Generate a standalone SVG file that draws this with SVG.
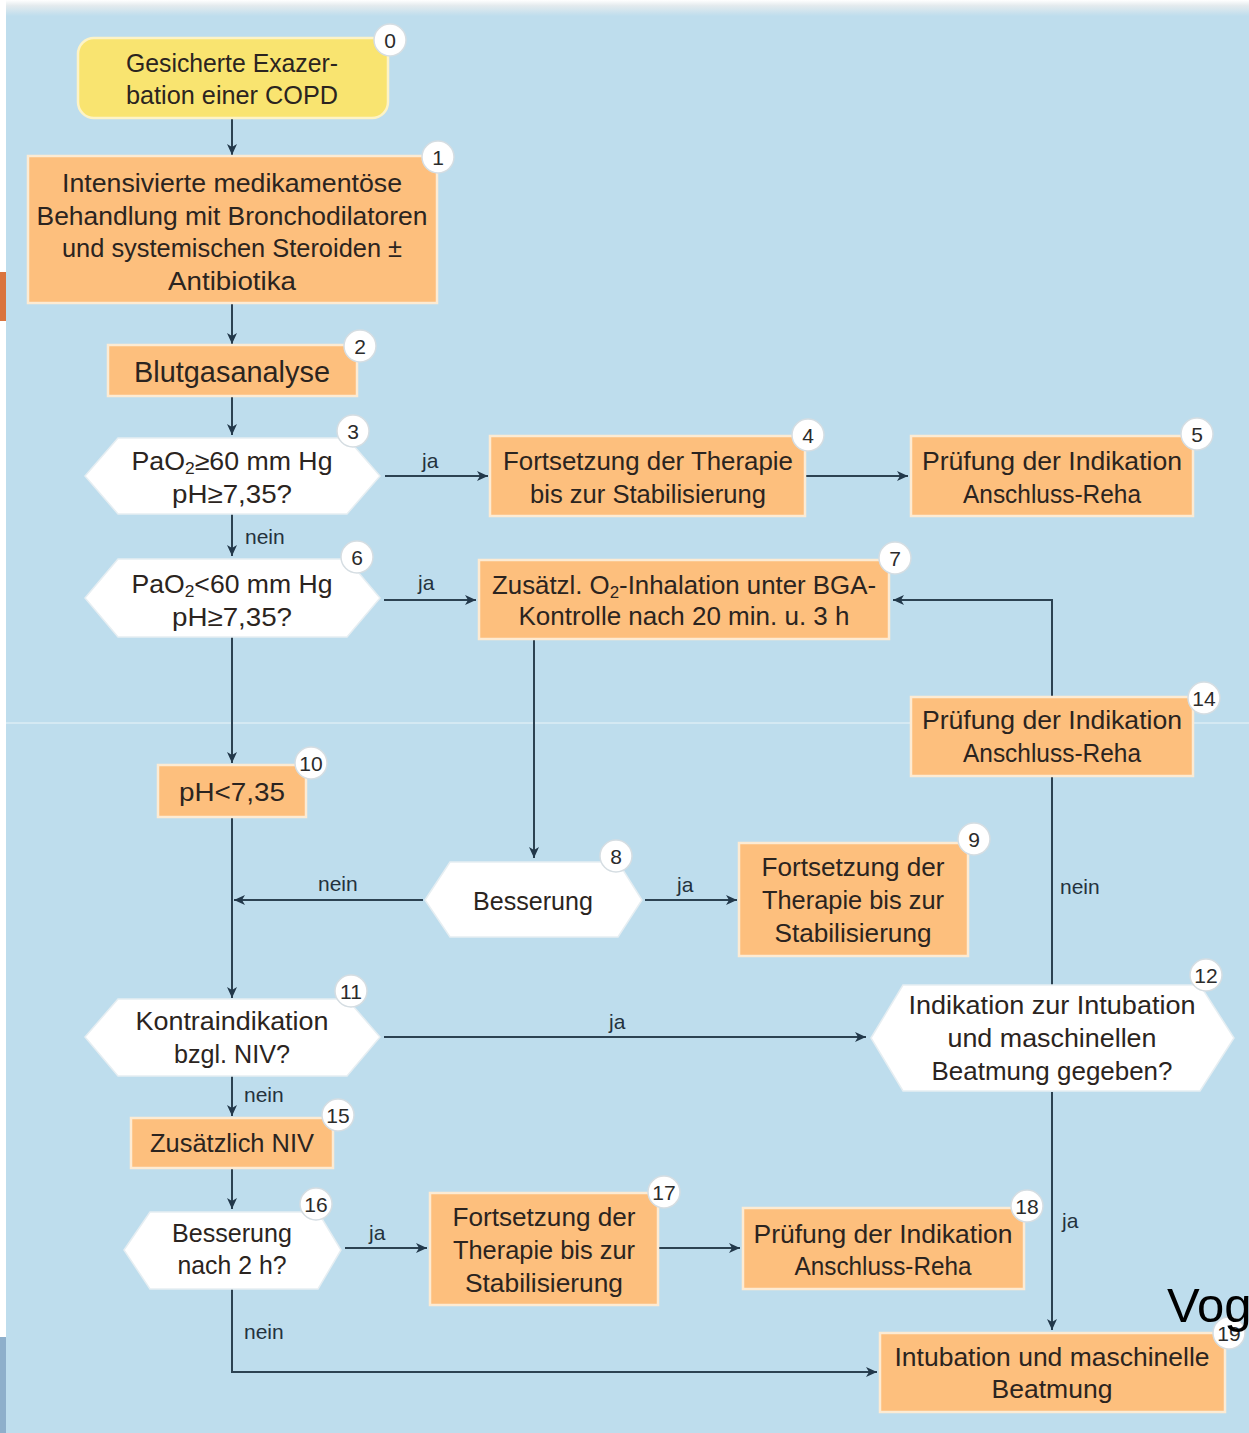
<svg xmlns="http://www.w3.org/2000/svg" width="1249" height="1433" viewBox="0 0 1249 1433">
  <defs>
    <marker id="arrow" markerUnits="userSpaceOnUse" markerWidth="12" markerHeight="10" refX="11" refY="5" orient="auto">
      <path d="M0,0 L11,5 L0,10 L3,5 z" fill="#22384a"/>
    </marker>
    <linearGradient id="topFade" x1="0" y1="0" x2="0" y2="1">
      <stop offset="0" stop-color="#ffffff"/>
      <stop offset="0.35" stop-color="#e4ebee"/>
      <stop offset="1" stop-color="#bedded"/>
    </linearGradient>
    <style>
      .t { font-family: "Liberation Sans", Arial, sans-serif; font-size: 26px; fill: #2b2420; text-anchor: middle; dominant-baseline: central; }
      .lbl { font-family: "Liberation Sans", Arial, sans-serif; font-size: 21px; fill: #24323d; }
      .box { fill: #fdbf7d; stroke: #fdebd3; stroke-width: 2.5; }
      .start { fill: #f9e470; stroke: #fdf3c6; stroke-width: 2.5; }
      .dec { fill: #ffffff; stroke: #e6eef2; stroke-width: 1.5; }
      .badge circle { fill: #ffffff; stroke: #d5dde2; stroke-width: 1.5; }
      .badge text { font-family: "Liberation Sans", Arial, sans-serif; font-size: 21px; fill: #2b2b2b; text-anchor: middle; dominant-baseline: central; }
      .edge { fill: none; stroke: #2c4252; stroke-width: 2; marker-end: url(#arrow); }
      .plain { fill: none; stroke: #2c4252; stroke-width: 2; }
    </style>
  </defs>

  <!-- page background -->
  <rect x="0" y="0" width="1249" height="1433" fill="#ffffff"/>
  <rect x="6" y="0" width="1243" height="1433" fill="#bedded"/>
  <rect x="6" y="0" width="1243" height="16" fill="url(#topFade)"/>
  <rect x="0" y="272" width="6" height="49" fill="#da743e"/>
  <rect x="0" y="1337" width="6" height="96" fill="#8eafcb"/>
  <line x1="6" y1="723" x2="1249" y2="723" stroke="#ffffff" stroke-opacity="0.7" stroke-width="1"/>

  <!-- connectors -->
  <g id="connectors">
    <line class="edge" x1="232" y1="118" x2="232" y2="155"/>
    <line class="edge" x1="232" y1="304" x2="232" y2="344"/>
    <line class="edge" x1="232" y1="397" x2="232" y2="435"/>
    <line class="edge" x1="385" y1="476" x2="488" y2="476"/>
    <line class="edge" x1="806" y1="476" x2="908" y2="476"/>
    <line class="edge" x1="232" y1="514" x2="232" y2="556"/>
    <line class="edge" x1="384" y1="600" x2="476" y2="600"/>
    <path class="edge" d="M1052 985 V600 H893"/>
    <line class="edge" x1="232" y1="637" x2="232" y2="763"/>
    <line class="edge" x1="534" y1="640" x2="534" y2="858"/>
    <line class="edge" x1="423" y1="900" x2="234" y2="900"/>
    <line class="edge" x1="645" y1="900" x2="737" y2="900"/>
    <line class="edge" x1="232" y1="817" x2="232" y2="998"/>
    <line class="edge" x1="384" y1="1037" x2="866" y2="1037"/>
    <line class="edge" x1="232" y1="1076" x2="232" y2="1116"/>
    <line class="edge" x1="232" y1="1168" x2="232" y2="1209"/>
    <line class="edge" x1="345" y1="1248" x2="427" y2="1248"/>
    <line class="edge" x1="659" y1="1248" x2="740" y2="1248"/>
    <line class="edge" x1="1052" y1="1092" x2="1052" y2="1330"/>
    <path class="edge" d="M232 1289 V1372 H877"/>

    <text class="lbl" x="422" y="468">ja</text>
    <text class="lbl" x="245" y="544">nein</text>
    <text class="lbl" x="418" y="590">ja</text>
    <text class="lbl" x="318" y="891">nein</text>
    <text class="lbl" x="677" y="892">ja</text>
    <text class="lbl" x="1060" y="894">nein</text>
    <text class="lbl" x="609" y="1029">ja</text>
    <text class="lbl" x="244" y="1102">nein</text>
    <text class="lbl" x="369" y="1240">ja</text>
    <text class="lbl" x="1062" y="1228">ja</text>
    <text class="lbl" x="244" y="1339">nein</text>
  </g>

  <!-- nodes -->
  <g id="node0">
    <rect class="start" x="78" y="38" width="310" height="80" rx="16"/>
    <text class="t" x="232" y="63" textLength="212" lengthAdjust="spacingAndGlyphs">Gesicherte Exazer-</text>
    <text class="t" x="232" y="95" textLength="212" lengthAdjust="spacingAndGlyphs">bation einer COPD</text>
    <g class="badge"><circle cx="390" cy="40" r="16"/><text x="390" y="40">0</text></g>
  </g>

  <g id="node1">
    <rect class="box" x="28" y="156" width="409" height="147"/>
    <text class="t" x="232" y="183" textLength="340" lengthAdjust="spacingAndGlyphs">Intensivierte medikamentöse</text>
    <text class="t" x="232" y="216" textLength="391" lengthAdjust="spacingAndGlyphs">Behandlung mit Bronchodilatoren</text>
    <text class="t" x="232" y="248" textLength="340" lengthAdjust="spacingAndGlyphs">und systemischen Steroiden ±</text>
    <text class="t" x="232" y="281" textLength="128" lengthAdjust="spacingAndGlyphs">Antibiotika</text>
    <g class="badge"><circle cx="438" cy="157" r="16"/><text x="438" y="157">1</text></g>
  </g>

  <g id="node2">
    <rect class="box" x="108" y="345" width="249" height="51"/>
    <text class="t" x="232" y="371" style="font-size:30px" textLength="196" lengthAdjust="spacingAndGlyphs">Blutgasanalyse</text>
    <g class="badge"><circle cx="360" cy="346" r="16"/><text x="360" y="346">2</text></g>
  </g>

  <g id="node3">
    <polygon class="dec" points="85,476 118,438 347,438 380,476 347,514 118,514"/>
    <text class="t" x="232" y="461" textLength="201" lengthAdjust="spacingAndGlyphs">PaO<tspan font-size="17" dy="7">2</tspan><tspan dy="-7">≥60 mm Hg</tspan></text>
    <text class="t" x="232" y="494" textLength="120" lengthAdjust="spacingAndGlyphs">pH≥7,35?</text>
    <g class="badge"><circle cx="353" cy="431" r="16"/><text x="353" y="431">3</text></g>
  </g>

  <g id="node4">
    <rect class="box" x="490" y="436" width="315" height="80"/>
    <text class="t" x="648" y="461" textLength="290" lengthAdjust="spacingAndGlyphs">Fortsetzung der Therapie</text>
    <text class="t" x="648" y="494" textLength="236" lengthAdjust="spacingAndGlyphs">bis zur Stabilisierung</text>
    <g class="badge"><circle cx="808" cy="435" r="16"/><text x="808" y="435">4</text></g>
  </g>

  <g id="node5">
    <rect class="box" x="911" y="436" width="282" height="80"/>
    <text class="t" x="1052" y="461" textLength="260" lengthAdjust="spacingAndGlyphs">Prüfung der Indikation</text>
    <text class="t" x="1052" y="494" textLength="178" lengthAdjust="spacingAndGlyphs">Anschluss-Reha</text>
    <g class="badge"><circle cx="1197" cy="434" r="16"/><text x="1197" y="434">5</text></g>
  </g>

  <g id="node6">
    <polygon class="dec" points="85,598 118,559 347,559 380,598 347,637 118,637"/>
    <text class="t" x="232" y="584" textLength="201" lengthAdjust="spacingAndGlyphs">PaO<tspan font-size="17" dy="7">2</tspan><tspan dy="-7">&lt;60 mm Hg</tspan></text>
    <text class="t" x="232" y="617" textLength="120" lengthAdjust="spacingAndGlyphs">pH≥7,35?</text>
    <g class="badge"><circle cx="357" cy="557" r="16"/><text x="357" y="557">6</text></g>
  </g>

  <g id="node7">
    <rect class="box" x="479" y="560" width="410" height="79"/>
    <text class="t" x="684" y="585" textLength="384" lengthAdjust="spacingAndGlyphs">Zusätzl. O<tspan font-size="17" dy="7">2</tspan><tspan dy="-7">-Inhalation unter BGA-</tspan></text>
    <text class="t" x="684" y="616" textLength="331" lengthAdjust="spacingAndGlyphs">Kontrolle nach 20 min. u. 3 h</text>
    <g class="badge"><circle cx="895" cy="558" r="16"/><text x="895" y="558">7</text></g>
  </g>

  <g id="node14">
    <rect class="box" x="911" y="697" width="282" height="79"/>
    <text class="t" x="1052" y="720" textLength="260" lengthAdjust="spacingAndGlyphs">Prüfung der Indikation</text>
    <text class="t" x="1052" y="753" textLength="178" lengthAdjust="spacingAndGlyphs">Anschluss-Reha</text>
    <g class="badge"><circle cx="1204" cy="698" r="16"/><text x="1204" y="698">14</text></g>
  </g>

  <g id="node10">
    <rect class="box" x="158" y="765" width="148" height="52"/>
    <text class="t" x="232" y="792" textLength="106" lengthAdjust="spacingAndGlyphs">pH&lt;7,35</text>
    <g class="badge"><circle cx="311" cy="763" r="16"/><text x="311" y="763">10</text></g>
  </g>

  <g id="node8">
    <polygon class="dec" points="425,900 450,862 618,862 642,900 618,937 450,937"/>
    <text class="t" x="533" y="901" textLength="120" lengthAdjust="spacingAndGlyphs">Besserung</text>
    <g class="badge"><circle cx="616" cy="856" r="16"/><text x="616" y="856">8</text></g>
  </g>

  <g id="node9">
    <rect class="box" x="739" y="843" width="229" height="113"/>
    <text class="t" x="853" y="867" textLength="183" lengthAdjust="spacingAndGlyphs">Fortsetzung der</text>
    <text class="t" x="853" y="900" textLength="182" lengthAdjust="spacingAndGlyphs">Therapie bis zur</text>
    <text class="t" x="853" y="933" textLength="157" lengthAdjust="spacingAndGlyphs">Stabilisierung</text>
    <g class="badge"><circle cx="974" cy="839" r="16"/><text x="974" y="839">9</text></g>
  </g>

  <g id="node11">
    <polygon class="dec" points="85,1037 118,999 347,999 380,1037 347,1076 118,1076"/>
    <text class="t" x="232" y="1021" textLength="193" lengthAdjust="spacingAndGlyphs">Kontraindikation</text>
    <text class="t" x="232" y="1054" textLength="116" lengthAdjust="spacingAndGlyphs">bzgl. NIV?</text>
    <g class="badge"><circle cx="351" cy="991" r="16"/><text x="351" y="991">11</text></g>
  </g>

  <g id="node12">
    <polygon class="dec" points="871,1038 903,985 1200,985 1234,1038 1200,1091 903,1091"/>
    <text class="t" x="1052" y="1005" textLength="287" lengthAdjust="spacingAndGlyphs">Indikation zur Intubation</text>
    <text class="t" x="1052" y="1038" textLength="209" lengthAdjust="spacingAndGlyphs">und  maschinellen</text>
    <text class="t" x="1052" y="1071" textLength="241" lengthAdjust="spacingAndGlyphs">Beatmung gegeben?</text>
    <g class="badge"><circle cx="1206" cy="975" r="16"/><text x="1206" y="975">12</text></g>
  </g>

  <g id="node15">
    <rect class="box" x="131" y="1118" width="202" height="50"/>
    <text class="t" x="232" y="1143" textLength="164" lengthAdjust="spacingAndGlyphs">Zusätzlich NIV</text>
    <g class="badge"><circle cx="338" cy="1115" r="16"/><text x="338" y="1115">15</text></g>
  </g>

  <g id="node16">
    <polygon class="dec" points="124,1250 150,1212 318,1212 341,1250 318,1289 150,1289"/>
    <text class="t" x="232" y="1233" textLength="120" lengthAdjust="spacingAndGlyphs">Besserung</text>
    <text class="t" x="232" y="1265" textLength="109" lengthAdjust="spacingAndGlyphs">nach 2 h?</text>
    <g class="badge"><circle cx="316" cy="1204" r="16"/><text x="316" y="1204">16</text></g>
  </g>

  <g id="node17">
    <rect class="box" x="430" y="1193" width="228" height="112"/>
    <text class="t" x="544" y="1217" textLength="183" lengthAdjust="spacingAndGlyphs">Fortsetzung der</text>
    <text class="t" x="544" y="1250" textLength="182" lengthAdjust="spacingAndGlyphs">Therapie bis zur</text>
    <text class="t" x="544" y="1283" textLength="158" lengthAdjust="spacingAndGlyphs">Stabilisierung</text>
    <g class="badge"><circle cx="664" cy="1192" r="16"/><text x="664" y="1192">17</text></g>
  </g>

  <g id="node18">
    <rect class="box" x="743" y="1208" width="281" height="81"/>
    <text class="t" x="883" y="1234" textLength="259" lengthAdjust="spacingAndGlyphs">Prüfung der Indikation</text>
    <text class="t" x="883" y="1266" textLength="177" lengthAdjust="spacingAndGlyphs">Anschluss-Reha</text>
    <g class="badge"><circle cx="1027" cy="1206" r="16"/><text x="1027" y="1206">18</text></g>
  </g>

  <g id="node19">
    <rect class="box" x="880" y="1333" width="345" height="79"/>
    <text class="t" x="1052" y="1357" textLength="315" lengthAdjust="spacingAndGlyphs">Intubation und maschinelle</text>
    <text class="t" x="1052" y="1389" textLength="121" lengthAdjust="spacingAndGlyphs">Beatmung</text>
    <g class="badge"><circle cx="1229" cy="1333" r="16"/><text x="1229" y="1333">19</text></g>
  </g>

  <!-- overlaid caption fragment -->
  <text x="1167" y="1322" font-family="Liberation Sans, Arial, sans-serif" font-size="49" fill="#000000">Vog</text>
</svg>
